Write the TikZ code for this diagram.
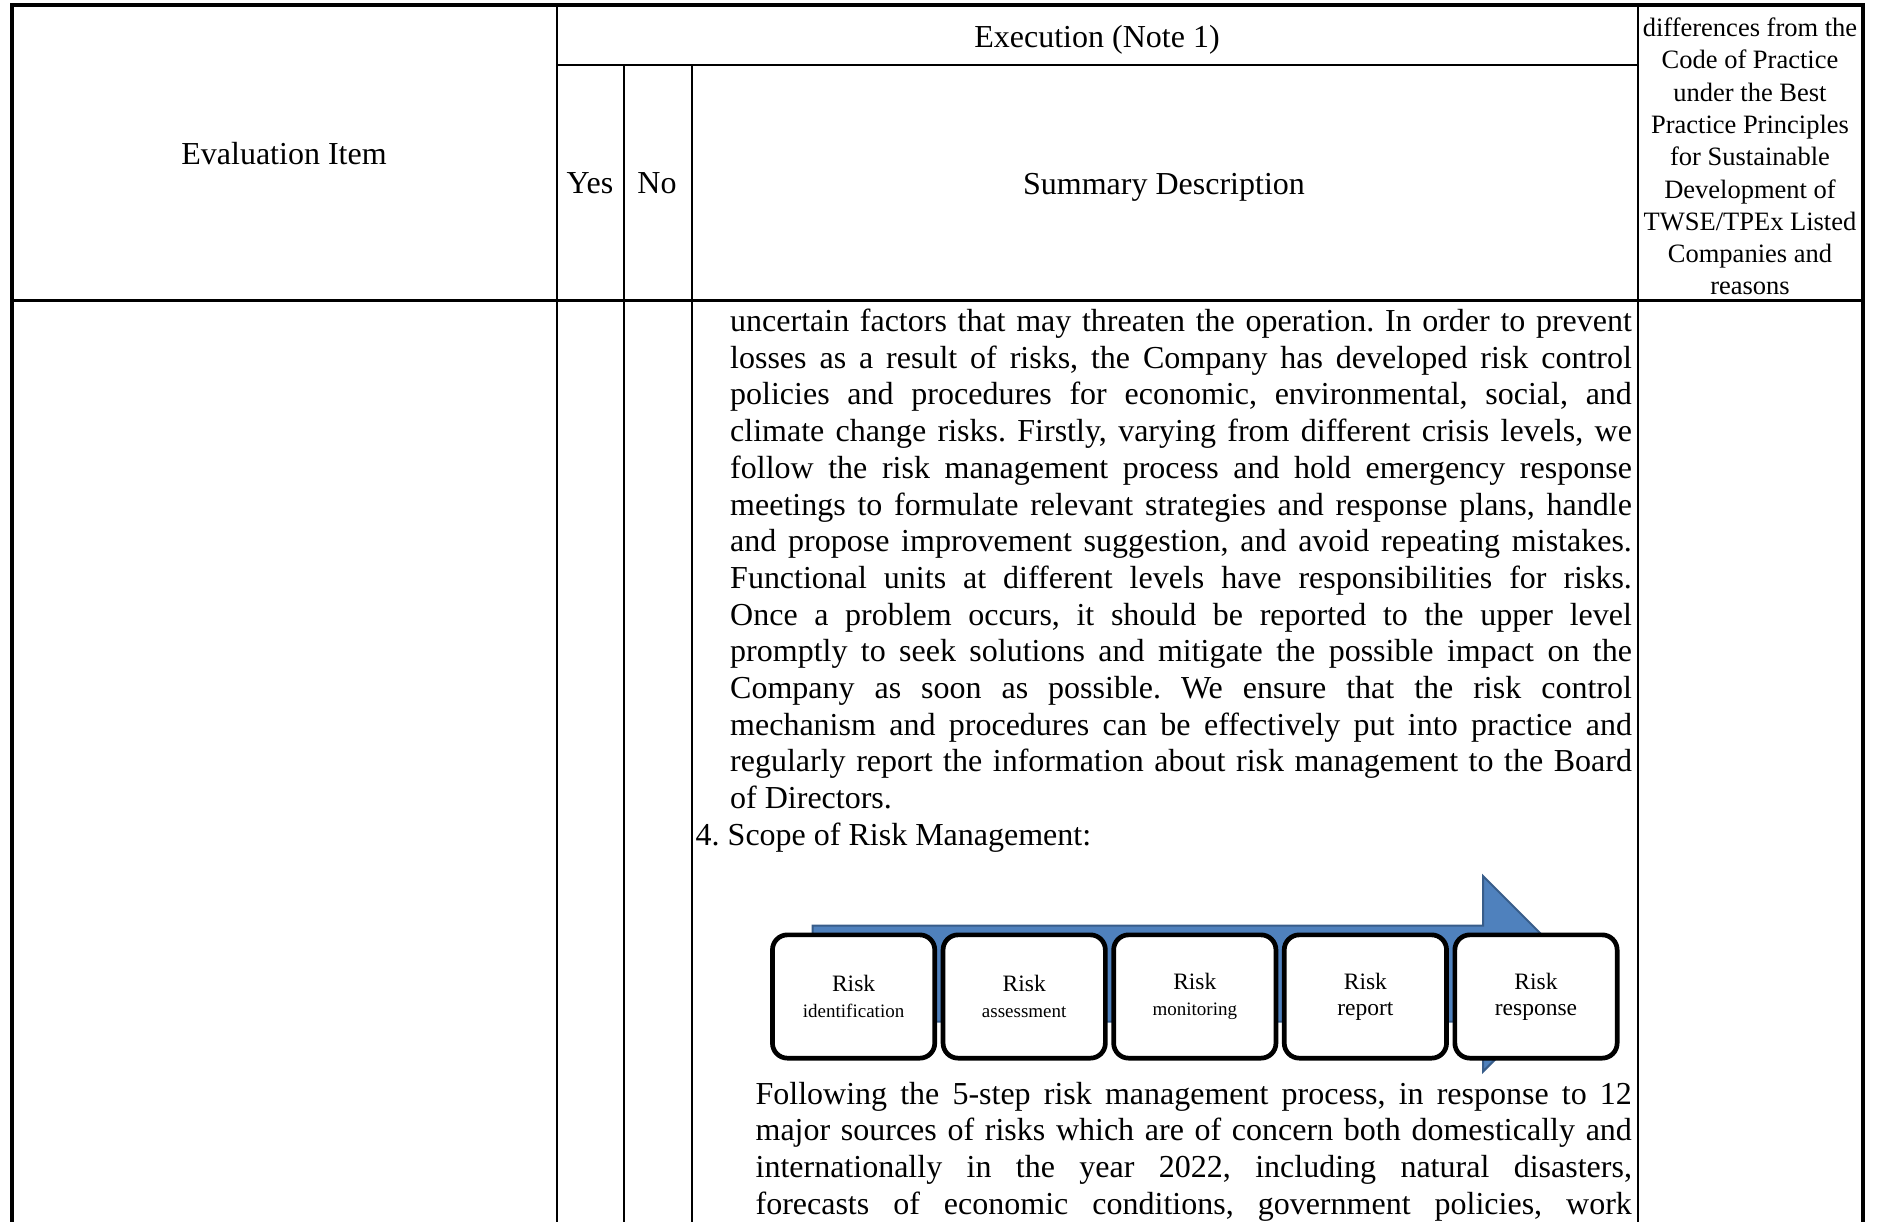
\documentclass[tikz,border=0pt]{standalone}
\usepackage{fontspec}
\setmainfont{Liberation Serif}
\usetikzlibrary{positioning}
\definecolor{flowblue}{RGB}{79,129,189}
\definecolor{flowedge}{RGB}{56,93,138}
\newcommand{\bodysize}{\fontsize{32}{36.7}\selectfont}
\newcommand{\headsize}{\fontsize{32}{38}\selectfont}
\newcommand{\notesize}{\fontsize{26.5}{32.3}\selectfont}
\newcommand{\riskbig}{\fontsize{23.5}{26}\selectfont}
\newcommand{\risksmall}{\fontsize{19}{26}\selectfont}
\hyphenpenalty=10000
\frenchspacing
\tikzset{
  frame line/.style={line width=4.5pt},
  rule line/.style={line width=3pt},
  grid line/.style={line width=2pt},
  head text/.style={font=\headsize,inner sep=0pt},
  note text/.style={font=\notesize,align=center,inner sep=0pt},
  body text/.style={font=\bodysize,text width=#1,align=justify,inner sep=0pt,anchor=base west},
  risk box/.style={draw,line width=4.7pt,fill=white,rounded corners=15pt,minimum width=162.3pt,minimum height=123.3pt,align=center,font=\riskbig,inner sep=0pt},
  flow arrow/.style={fill=flowblue,draw=flowedge,line width=2pt,line join=miter}
}

\begin{document}
\begin{tikzpicture}[x=1pt,y=-1pt,line cap=rect]
  \useasboundingbox (0,0) rectangle (1877,1221);
  \coordinate (exec) at (556.7,64.6);
  \coordinate (note) at (1637.6,64.6);

  \foreach \x in {556.7,1637.6} {\draw[grid line] (\x,5) -- (\x,1225);}
  \foreach \x in {623.7,691.9} {\draw[grid line] (\x,64.6) -- (\x,1225);}
  \draw[grid line] (exec) -- (note);
  \draw[rule line] (12,300.5) -- (1863,300.5);
  \draw[frame line] (12,1225) -- (12,5) -- (1863,5) -- (1863,1225);

  \node[head text] (item) at (284,154) {Evaluation Item};
  \node[head text] (execution) at (1097,39.5) {Execution (Note 1)};
  \node[head text] (yes) at (590,183.5) {Yes};
  \node[head text] (no) at (657,183.5) {No};
  \node[head text] (summary) at (1164,187) {Summary Description};
  \node[note text] (diff) at (1750,156.5) {differences from the\\Code of Practice\\under the Best\\Practice Principles\\for Sustainable\\Development of\\TWSE/TPEx Listed\\Companies and\\reasons};

  \node[body text=901.7pt] (control) at (730,331.5) {uncertain factors that may threaten the operation. In order to prevent\linebreak
    losses as a result of risks, the Company has developed risk control\linebreak
    policies and procedures for economic, environmental, social, and\linebreak
    climate change risks. Firstly, varying from different crisis levels, we\linebreak
    follow the risk management process and hold emergency response\linebreak
    meetings to formulate relevant strategies and response plans, handle\linebreak
    and propose improvement suggestion, and avoid repeating mistakes.\linebreak
    Functional units at different levels have responsibilities for risks.\linebreak
    Once a problem occurs, it should be reported to the upper level\linebreak
    promptly to seek solutions and mitigate the possible impact on the\linebreak
    Company as soon as possible. We ensure that the risk control\linebreak
    mechanism and procedures can be effectively put into practice and\linebreak
    regularly report the information about risk management to the Board\linebreak
    of Directors.};
  \node[head text,anchor=base west] (scope) at (695.5,845) {4. Scope of Risk Management:};

  \draw[flow arrow] (812.7,925.7) -- (1483,925.7) -- (1483,876) -- (1580.8,973.8)
        -- (1483,1071.6) -- (1483,1021.7) -- (812.7,1021.7) -- cycle;
  \foreach \lab/\sz [count=\i] in {identification/\risksmall,assessment/\risksmall,
      monitoring/\risksmall,report/\riskbig,response/\riskbig}
    \node[risk box] (risk\i) at ({853.6+170.6*(\i-1)},996.5) {Risk\\{\sz\lab}};

  \node[body text=876.3pt] (steps) at (755.4,1104) {Following the 5-step risk management process, in response to 12\linebreak
    major sources of risks which are of concern both domestically and\linebreak
    internationally in the year 2022, including natural disasters,\linebreak
    forecasts of economic conditions, government policies, work\linebreak};
\end{tikzpicture}
\end{document}
